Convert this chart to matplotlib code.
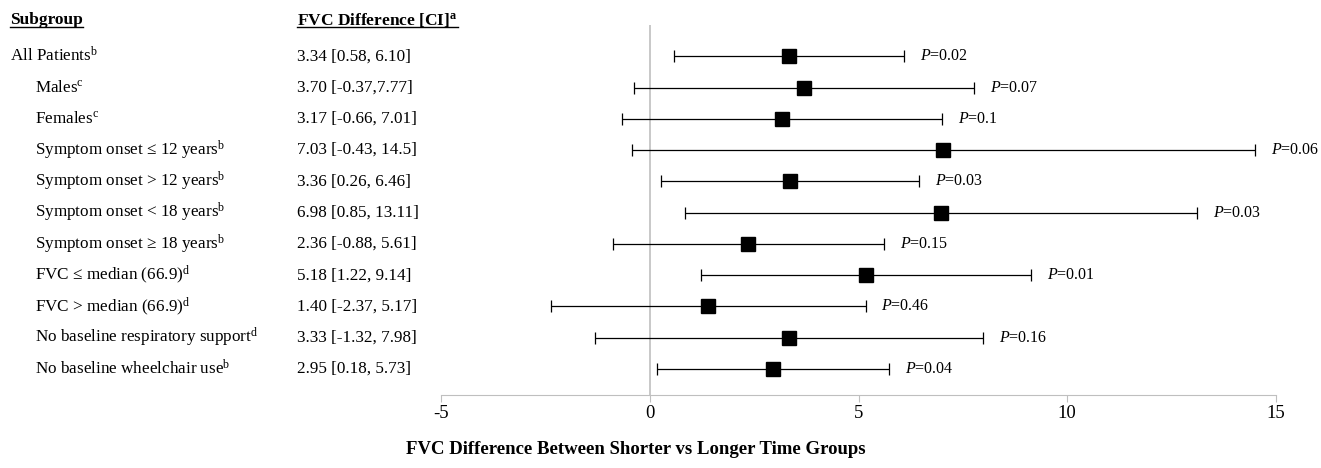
import matplotlib
matplotlib.use("Agg")
import matplotlib.pyplot as plt
from matplotlib.lines import Line2D
import matplotlib.transforms as mtransforms

plt.rcParams['font.family'] = ['Liberation Serif', 'DejaVu Serif']
plt.rcParams['mathtext.fontset'] = 'custom'
plt.rcParams['mathtext.rm'] = 'Liberation Serif'
plt.rcParams['mathtext.it'] = 'Liberation Serif:italic'
plt.rcParams['mathtext.bf'] = 'Liberation Serif:bold'

# data
subgroups = ["All Patients", "Males", "Females", "Symptom onset \u2264 12 years",
             "Symptom onset > 12 years", "Symptom onset < 18 years",
             "Symptom onset \u2265 18 years", "FVC \u2264 median (66.9)",
             "FVC > median (66.9)", "No baseline respiratory support",
             "No baseline wheelchair use"]
notes = ["b", "c", "c", "b", "b", "b", "b", "d", "d", "d", "b"]
indent = [False] + [True] * 10
estimate = [3.34, 3.70, 3.17, 7.03, 3.36, 6.98, 2.36, 5.18, 1.40, 3.33, 2.95]
ci_low = [0.58, -0.37, -0.66, -0.43, 0.26, 0.85, -0.88, 1.22, -2.37, -1.32, 0.18]
ci_high = [6.10, 7.77, 7.01, 14.5, 6.46, 13.11, 5.61, 9.14, 5.17, 7.98, 5.73]
ci_text = ["3.34 [0.58, 6.10]", "3.70 [-0.37,7.77]", "3.17 [-0.66, 7.01]",
           "7.03 [-0.43, 14.5]", "3.36 [0.26, 6.46]", "6.98 [0.85, 13.11]",
           "2.36 [-0.88, 5.61]", "5.18 [1.22, 9.14]", "1.40 [-2.37, 5.17]",
           "3.33 [-1.32, 7.98]", "2.95 [0.18, 5.73]"]
p_values = ["0.02", "0.07", "0.1", "0.06", "0.03", "0.03", "0.15", "0.01", "0.46", "0.16", "0.04"]
x_ticks = [-5, 0, 5, 10, 15]

W, H = 1321, 468
fs = 12.3
fig = plt.figure(figsize=(W / 100, H / 100), dpi=100)
ax = fig.add_axes([441 / W, 1 - 395 / H, (1276 - 441) / W, (395 - 25) / H])

rows = list(range(len(subgroups)))
xerr = [[e - l for e, l in zip(estimate, ci_low)], [h - e for e, h in zip(estimate, ci_high)]]
ax.errorbar(estimate, rows, xerr=xerr, fmt='s', color='black', ms=9.5,
            ecolor='black', elinewidth=0.9, capsize=4, capthick=0.9, zorder=3)
ax.axvline(0, color='#bfbfbf', lw=1.2, zorder=1)

for r, h, p in zip(rows, ci_high, p_values):
    ax.text(h + 0.38, r, "$P$=" + p, fontsize=11.5, va='center', ha='left')

ax.set_xlim(-5, 15)
ax.set_ylim(10.83, -1)
ax.set_xticks(x_ticks)
ax.set_xticklabels([str(t) for t in x_ticks], fontsize=13.5)
ax.set_yticks([])
for s in ['top', 'right', 'left']:
    ax.spines[s].set_visible(False)
ax.spines['bottom'].set_color('#bfbfbf')
ax.tick_params(axis='x', colors='#bfbfbf', length=5, pad=2, labelcolor='black')

# left columns
trans = mtransforms.blended_transform_factory(fig.transFigure, ax.transData)
for r, name, n, ind, c in zip(rows, subgroups, notes, indent, ci_text):
    xpos = 35 / W if ind else 10 / W
    ax.text(xpos, r, name + "$^{\\mathrm{" + n + "}}$", transform=trans,
            fontsize=fs, va='center', ha='left')
    ax.text(297 / W, r, c, transform=trans, fontsize=fs, va='center', ha='left')

h1 = fig.text(10 / W, 1 - 20 / H, "Subgroup", fontsize=12.5, fontweight='bold',
              va='center', ha='left')
h2 = fig.text(297 / W, 1 - 20 / H, "FVC Difference [CI]$^{\\mathbf{a}}$", fontsize=12.5,
              fontweight='bold', va='center', ha='left')

fig.text(636 / W, 1 - 449 / H, "FVC Difference Between Shorter vs Longer Time Groups",
         fontsize=13.5, fontweight='bold', va='center', ha='center')

# underline headers
fig.canvas.draw()
renderer = fig.canvas.get_renderer()
for t in (h1, h2):
    bb = t.get_window_extent(renderer).transformed(fig.transFigure.inverted())
    y = 1 - 27 / H
    fig.add_artist(Line2D([bb.x0, bb.x1], [y, y], color='black', lw=1.0,
                          transform=fig.transFigure))

fig.savefig("out.png", dpi=100)
